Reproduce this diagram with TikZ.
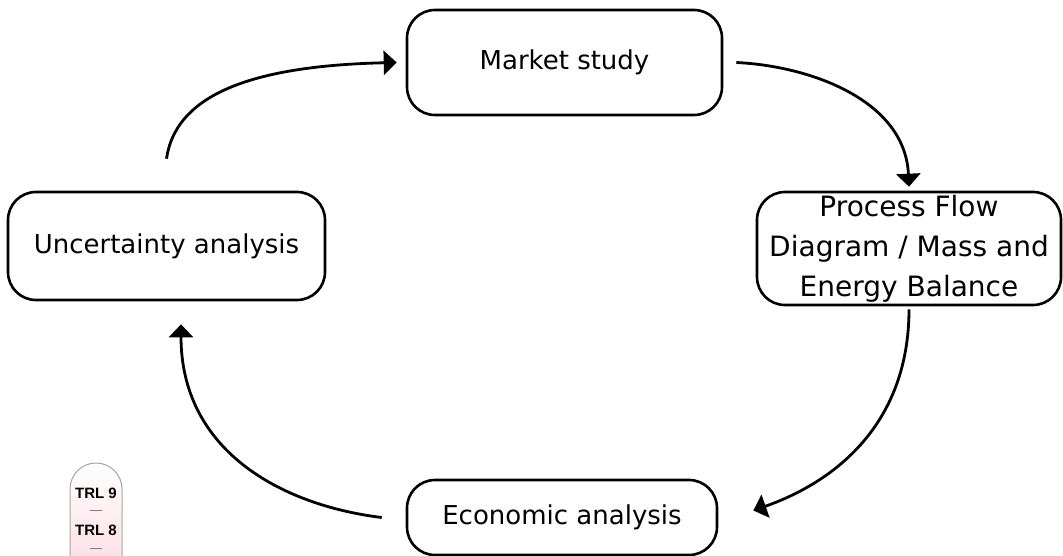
\documentclass[tikz,border=0pt]{standalone}
\usepackage{fontspec}
\setmainfont{DejaVu Sans}
\newfontfamily\trlfont{Liberation Sans}
\usetikzlibrary{arrows.meta}
\definecolor{trlpink}{HTML}{FBE1E5}
\tikzset{
  stagebox/.style={draw, line width=2.6pt, rounded corners=28pt, align=center,
    font=\fontsize{26}{40}\selectfont, inner sep=0pt},
  flow/.style={line width=2.8pt, -{Triangle[length=13pt,width=24pt]}},
  trltext/.style={font=\trlfont\bfseries\fontsize{15}{16}\selectfont, inner sep=0pt},
}
\begin{document}
\begin{tikzpicture}[x=1pt,y=-1pt]
\useasboundingbox (0,0) rectangle (1063,556);
\node[stagebox, minimum width=315pt, minimum height=105pt] (mkt) at (564.5,62.5) {Market study};
\node[stagebox, minimum width=304pt, minimum height=113pt, font=\fontsize{28}{40}\selectfont] (proc) at (909,248.5) {Process Flow\\Diagram / Mass and\\Energy Balance};
\node[stagebox, minimum width=317pt, minimum height=108pt] (unc) at (166.5,246) {Uncertainty analysis};
\node[stagebox, minimum width=310pt, minimum height=75pt] (eco) at (562,517.5) {Economic analysis};

\draw[flow] ([yshift=32pt]unc.north) .. controls (175,100) and (240,66) .. ([xshift=-9pt]mkt.west);
\draw[flow] ([xshift=13pt]mkt.east) .. controls (810,66) and (905,100) .. ([yshift=4pt]proc.north);
\draw[flow] ([yshift=-3pt]proc.south) .. controls (909,420) and (840,480) .. ([xshift=35pt,yshift=7pt]eco.east);
\draw[flow] ([xshift=-24pt]eco.west) .. controls (280,505) and (181,450) .. ([xshift=14.5pt,yshift=-23pt]unc.south);

% TRL icon
\path[top color=white, bottom color=trlpink, draw=gray!70, line width=1pt]
  (70,557) -- (70,489) arc[start angle=180, end angle=360, radius=26] -- (122,557);
\node[trltext] (t9) at (96,493) {TRL 9};
\node[trltext] (t8) at (96,530) {TRL 8};
\draw[gray, line width=0.9pt] (90,510) -- (102,510);
\draw[gray, line width=0.9pt] (90,548) -- (102,548);
\end{tikzpicture}
\end{document}
